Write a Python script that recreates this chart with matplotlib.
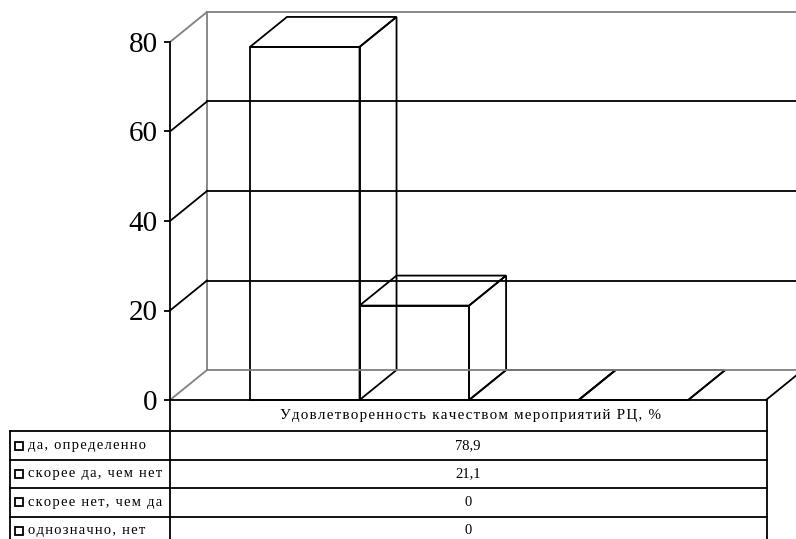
import matplotlib
matplotlib.use('Agg')
import matplotlib.pyplot as plt
from matplotlib.patches import Polygon

plt.rcParams['font.family'] = ['Liberation Serif', 'DejaVu Serif']

category = 'Удовлетворенность качеством мероприятий РЦ, %'
series = ['да, определенно', 'скорее да, чем нет', 'скорее нет, чем да', 'однозначно, нет']
values = [78.9, 21.1, 0, 0]
value_labels = ['78,9', '21,1', '0', '0']
y_ticks = [0, 20, 40, 60, 80]

W, H = 796, 539
GREY = '#808080'
LW = 1.3


def box(l, t, r, b):
    # pixel box (top-left origin) -> figure fraction rect
    return [l / W, 1 - b / H, (r - l) / W, (b - t) / H]


def spaced(s):
    # the original text is letter-spaced
    return '\u200a'.join(s)


fig = plt.figure(figsize=(W / 100, H / 100), dpi=100)

ax = fig.add_axes(box(170, 42, 766, 400))
x0, x1 = -0.73, 4.71
ax.set_xlim(x0, x1)
ax.set_ylim(0, 80)
ax.patch.set_visible(False)

# depth of the pseudo-3d box, in data units (about 37px right, 30px up)
DX = 37 / (596 / (x1 - x0))
DY = 30 / (358 / 80)

# back wall and floor
ax.plot([x0 + DX, x0 + DX], [DY, 80 + DY], color=GREY, lw=LW, clip_on=False)
ax.plot([x0 + DX, x1 + DX], [80 + DY, 80 + DY], color=GREY, lw=LW, clip_on=False)
ax.plot([x0 + DX, x1 + DX], [DY, DY], color=GREY, lw=LW, clip_on=False)
for v in y_ticks:
    c = GREY if v in (y_ticks[0], y_ticks[-1]) else 'black'
    ax.plot([x0, x0 + DX], [v, v + DY], color=c, lw=LW, clip_on=False)
    if c == 'black':
        ax.plot([x0 + DX, x1 + DX], [v + DY, v + DY], color='black', lw=LW, clip_on=False)
ax.plot([x1, x1 + DX], [0, DY], color='black', lw=LW, clip_on=False)

# bars: outline only (front, top, right side)
for i, v in enumerate(values):
    l, r = i, i + 1
    faces = [
        [(l, 0), (r, 0), (r, v), (l, v)],
        [(l, v), (r, v), (r + DX, v + DY), (l + DX, v + DY)],
        [(r, 0), (r + DX, DY), (r + DX, v + DY), (r, v)],
    ]
    for f in faces:
        ax.add_patch(Polygon(f, closed=True, fill=False, ec='black', lw=LW, clip_on=False))

for side in ['top', 'right']:
    ax.spines[side].set_visible(False)
for side in ['left', 'bottom']:
    ax.spines[side].set_linewidth(LW)
ax.set_xticks([])
ax.set_yticks(y_ticks)
ax.tick_params(axis='y', length=4, width=LW, labelsize=21, pad=5)

# data table below the chart
tab = fig.add_axes([0, 0, 1, 1])
tab.set_xlim(0, W)
tab.set_ylim(H, 0)
tab.axis('off')

rows = [431, 460, 488, 516.5, 545]
tab.plot([170, 170], [400, H], color='black', lw=LW)
tab.plot([767, 767], [400, H], color='black', lw=LW)
tab.plot([10, 10], [rows[0], H], color='black', lw=LW)
for y in rows[:-1]:
    tab.plot([10, 767], [y, y], color='black', lw=LW)

tab.text(470, 415, spaced(category), ha='center', va='center', fontsize=10.8)
for k, (name, lab) in enumerate(zip(series, value_labels)):
    yc = (rows[k] + rows[k + 1]) / 2
    tab.plot(18.5, yc, marker='s', ms=5.5, mfc='white', mec='black', mew=1.3)
    tab.text(28, yc, spaced(name), ha='left', va='center', fontsize=10.5)
    tab.text(468, yc, lab, ha='center', va='center', fontsize=10.5)

fig.savefig('out.png', dpi=100)
